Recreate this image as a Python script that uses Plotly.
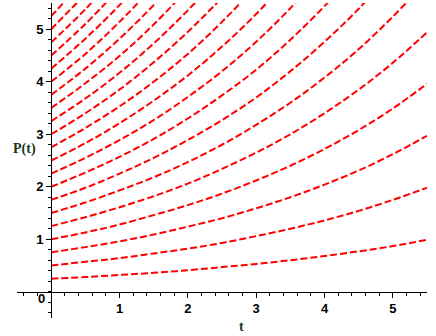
import plotly.graph_objects as go

# time samples (t)
t_values = [0.0, 0.5, 1.0, 1.5, 2.0, 2.5, 3.0, 3.5, 4.0, 4.5, 5.0, 5.5]

# P(t) values, one list per curve (from lowest to highest)
curve_01 = [0.25, 0.28, 0.32, 0.36, 0.41, 0.47, 0.53, 0.60, 0.68, 0.77, 0.87, 0.99]
curve_02 = [0.50, 0.57, 0.64, 0.73, 0.82, 0.93, 1.06, 1.20, 1.36, 1.54, 1.75, 1.98]
curve_03 = [0.75, 0.85, 0.96, 1.09, 1.24, 1.40, 1.59, 1.80, 2.04, 2.31, 2.62, 2.97]
curve_04 = [1.00, 1.13, 1.28, 1.46, 1.65, 1.87, 2.12, 2.40, 2.72, 3.08, 3.49, 3.96]
curve_05 = [1.25, 1.42, 1.61, 1.82, 2.06, 2.34, 2.65, 3.00, 3.40, 3.85, 4.36, 4.94]
curve_06 = [1.50, 1.70, 1.93, 2.18, 2.47, 2.80, 3.18, 3.60, 4.08, 4.62, 5.24, 5.93]
curve_07 = [1.75, 1.98, 2.25, 2.55, 2.89, 3.27, 3.70, 4.20, 4.76, 5.39, 6.11]
curve_08 = [2.00, 2.27, 2.57, 2.91, 3.30, 3.74, 4.23, 4.80, 5.44, 6.16]
curve_09 = [2.25, 2.55, 2.89, 3.27, 3.71, 4.20, 4.76, 5.40, 6.12]
curve_10 = [2.50, 2.83, 3.21, 3.64, 4.12, 4.67, 5.29, 6.00]
curve_11 = [2.75, 3.12, 3.53, 4.00, 4.53, 5.14, 5.82]
curve_12 = [3.00, 3.40, 3.85, 4.37, 4.95, 5.60]
curve_13 = [3.25, 3.68, 4.17, 4.73, 5.36, 6.07]
curve_14 = [3.50, 3.97, 4.49, 5.09, 5.77]
curve_15 = [3.75, 4.25, 4.82, 5.46, 6.18]
curve_16 = [4.00, 4.53, 5.14, 5.82]
curve_17 = [4.25, 4.82, 5.46, 6.18]
curve_18 = [4.50, 5.10, 5.78]
curve_19 = [4.75, 5.38, 6.10]
curve_20 = [5.00, 5.67]
curve_21 = [5.25, 5.95]
curve_22 = [5.50, 6.23]

all_curves = [curve_01, curve_02, curve_03, curve_04, curve_05, curve_06,
              curve_07, curve_08, curve_09, curve_10, curve_11, curve_12,
              curve_13, curve_14, curve_15, curve_16, curve_17, curve_18,
              curve_19, curve_20, curve_21, curve_22]

major_ticks = [1, 2, 3, 4, 5]
tick_labels = ["1", "2", "3", "4", "5"]
axis_min, axis_max = -0.5, 5.5

fig = go.Figure()
for c in all_curves:
    fig.add_trace(go.Scatter(
        x=t_values[:len(c)], y=c, mode="lines",
        line=dict(color="#ff0000", width=2, dash="7px,3px", shape="spline"),
        showlegend=False, hoverinfo="skip"))

origin_frac = (0 - axis_min) / (axis_max - axis_min)
tickfont = dict(family="Liberation Sans", size=13, color="black", weight="bold")
labelfont = dict(family="Liberation Serif", size=14, color="#183818", weight="bold")

common = dict(
    range=[axis_min, axis_max], showgrid=False, zeroline=False,
    showline=True, linecolor="black", linewidth=1,
    tickmode="array", tickvals=major_ticks, ticktext=tick_labels,
    ticks="outside", ticklen=5, tickwidth=1, tickcolor="black",
    tickfont=tickfont,
    minor=dict(tickmode="linear", tick0=0, dtick=0.2, ticks="outside",
               ticklen=3, tickwidth=1, tickcolor="black"),
    anchor="free", position=origin_frac, fixedrange=True,
)

fig.update_layout(
    width=436, height=336,
    margin=dict(l=17, r=9, t=3, b=18),
    paper_bgcolor="white", plot_bgcolor="white",
    xaxis=common, yaxis=common,
    annotations=[
        dict(x=0, y=0, xref="x", yref="y", text="0", showarrow=False,
             xanchor="center", yanchor="middle",
             xshift=-10, yshift=-7, font=tickfont),
        dict(x=(24 - 17) / 410, y=(318 - 149) / 315, xref="paper", yref="paper",
             text="P(t)", showarrow=False, xanchor="center", yanchor="middle",
             font=labelfont),
        dict(x=(241 - 17) / 410, y=(318 - 326) / 315, xref="paper", yref="paper",
             text="t", showarrow=False, xanchor="center", yanchor="middle",
             font=labelfont),
    ],
)

fig.write_html("out.html")
